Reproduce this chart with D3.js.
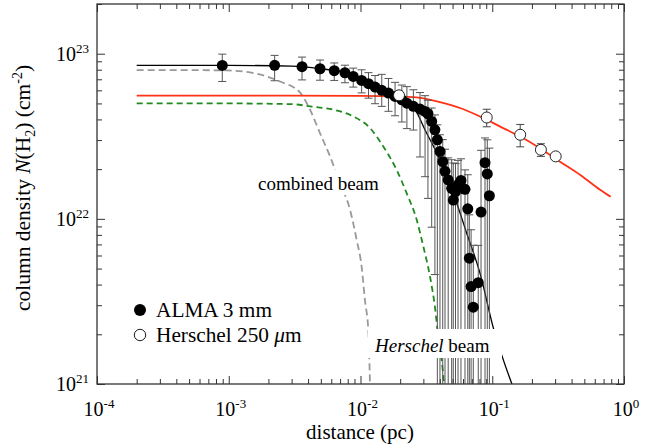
<!DOCTYPE html>
<html>
<head>
<meta charset="utf-8">
<script src="https://cdn.jsdelivr.net/npm/d3@7"></script>
<style>
  body { margin: 0; background: #fff; }
  svg { display: block; font-family: "Liberation Serif", "Times New Roman", serif; }
</style>
</head>
<body>
<svg id="chart"></svg>
<script>
// column densities are kept in units of 1e22 cm^-2
var UNIT = 1e22;

// ALMA 3 mm profile
var almaX = [8.93e-4, 2.23e-3, 3.60e-3, 4.93e-3, 6.32e-3, 7.62e-3, 8.81e-3, 1.02e-2, 1.15e-2, 1.29e-2,
  1.45e-2, 1.63e-2, 1.83e-2, 2.06e-2, 2.25e-2, 2.52e-2, 2.83e-2, 3.09e-2, 3.25e-2, 3.47e-2,
  3.67e-2, 3.83e-2, 4.01e-2, 4.21e-2, 4.38e-2, 4.63e-2, 4.92e-2, 5.06e-2, 5.26e-2, 5.50e-2,
  5.79e-2, 6.21e-2, 6.52e-2, 6.70e-2, 6.91e-2, 7.18e-2, 7.83e-2, 8.22e-2, 8.81e-2, 9.17e-2, 9.51e-2];
var almaY = [8.49, 8.50, 8.34, 8.11, 7.89, 7.67, 7.28, 6.89, 6.58, 6.28,
  6.00, 5.78, 5.51, 5.26, 5.02, 4.80, 4.62, 4.47, 4.33, 3.89,
  3.46, 3.01, 2.56, 2.22, 1.94, 1.72, 1.53, 1.30, 1.46, 1.61,
  1.71, 1.51, 1.15, 0.578, 0.389, 0.292, 0.411, 1.10, 2.19, 1.87, 1.38];
var almaErrUp = [1.45, 1.27, 1.2, 1.05, 0.9, 0.85, 0.9, 1.1, 1.1, 1.1,
  1.5, 1.3, 1.2, 1.2, 1.3, 1.25, 1.2, 1.1, 0.9, 0.8,
  0.8, 0.7, 0.67, 0.8, 0.7, 0.62, 0.75, 0.88, 0.7, 0.65,
  0.6, 0.47, 0.7, 0.48, 0.47, 0.4, 0.28, 1.5, 0.9, 1.14, 1.3];
var almaErrLo = [1.7, 1.64, 1.4, 1.2, 1.0, 1.0, 1.0, 1.1, 1.2, 1.3,
  1.2, 1.3, 1.3, 1.4, 1.5, 1.35, 2.25, 2.67, 3.0, 3.0,
  3.0, 9, 9, 9, 9, 9, 9, 9, 9, 9,
  9, 9, 9, 9, 9, 9, 9, 9, 9, 9, 9];

// Herschel 250 um profile
var hersX = [1.96e-2, 9.08e-2, 0.163, 0.234, 0.303];
var hersY = [5.60, 4.11, 3.23, 2.62, 2.39];
var hersErr = [0.3, 0.5, 0.5, 0.23, 0.08];

// model curves
var fitX = [2e-4, 1e-3, 3e-3, 5e-3, 7.6e-3, 1.0e-2, 1.3e-2, 1.6e-2, 2.0e-2, 2.38e-2,
  3.18e-2, 4.01e-2, 5.06e-2, 6.4e-2, 8.07e-2, 0.102, 0.141];
var fitY = [8.5, 8.5, 8.4, 8.1, 7.7, 7.0, 6.3, 5.8, 5.3, 5.05,
  3.3, 2.28, 1.43, 0.819, 0.469, 0.218, 0.1];

var combX = [2e-4, 5e-4, 9.65e-4, 1.63e-3, 2.45e-3, 3.47e-3, 4.14e-3, 4.93e-3, 5.87e-3, 6.98e-3,
  8.32e-3, 9.35e-3, 1.02e-2, 1.08e-2, 1.15e-2, 1.18e-2];
var combY = [7.95, 7.95, 7.92, 7.57, 6.79, 5.83, 4.58, 3.30, 2.39, 1.65,
  1.14, 0.746, 0.514, 0.323, 0.203, 0.1];

var hbeamX = [2e-4, 1e-3, 3e-3, 4.14e-3, 6.22e-3, 8.81e-3, 1.18e-2, 1.49e-2, 1.88e-2, 2.24e-2,
  2.67e-2, 3.0e-2, 3.37e-2, 3.67e-2, 3.89e-2, 4.13e-2, 4.31e-2];
var hbeamY = [5.0, 5.0, 4.95, 4.80, 4.58, 4.17, 3.55, 2.74, 1.98, 1.43,
  0.986, 0.679, 0.447, 0.294, 0.194, 0.140, 0.1];

var hfitX = [2e-4, 1e-3, 1e-2, 2.0e-2, 2.83e-2, 4.01e-2, 5.69e-2, 8.07e-2, 0.115, 0.163,
  0.230, 0.327, 0.463, 0.658, 0.792];
var hfitY = [5.58, 5.58, 5.56, 5.50, 5.40, 5.09, 4.69, 4.17, 3.62, 3.15,
  2.68, 2.22, 1.85, 1.50, 1.36];

// tick labels
var xTicks = [1e-4, 1e-3, 1e-2, 1e-1, 1];
var xTickExp = ['-4', '-3', '-2', '-1', '0'];
var yTicks = [1e21, 1e22, 1e23];
var yTickExp = ['21', '22', '23'];

var width = 665;
var height = 446;
var plotLeft = 97, plotRight = 624, plotTop = 4, plotBottom = 384;

var svg = d3.select('#chart')
  .attr('width', width)
  .attr('height', height);

var x = d3.scaleLog().domain([1e-4, 1]).range([plotLeft, plotRight]);
var y = d3.scaleLog().domain([1e21, 2e23]).range([plotBottom, plotTop]);

function zip(xs, ys) {
  return xs.map(function(v, i) { return [v, ys[i]]; });
}

function minorTicks(lo, hi) {
  var out = [];
  for (var e = lo; e < hi; e++) {
    for (var k = 2; k <= 9; k++) {
      out.push(k * Math.pow(10, e));
    }
  }
  return out;
}

svg.append('defs').append('clipPath').attr('id', 'plot-clip')
  .append('rect')
  .attr('x', plotLeft).attr('y', plotTop)
  .attr('width', plotRight - plotLeft).attr('height', plotBottom - plotTop);

var plot = svg.append('g').attr('clip-path', 'url(#plot-clip)');

var line = d3.line()
  .x(function(d) { return x(d[0]); })
  .y(function(d) { return y(d[1] * UNIT); })
  .curve(d3.curveMonotoneX);

plot.append('path').datum(zip(combX, combY))
  .attr('d', line).attr('fill', 'none')
  .attr('stroke', '#999').attr('stroke-width', 1.8).attr('stroke-dasharray', '7,4');

plot.append('path').datum(zip(hbeamX, hbeamY))
  .attr('d', line).attr('fill', 'none')
  .attr('stroke', '#1f8a1f').attr('stroke-width', 1.8).attr('stroke-dasharray', '6,4');

plot.append('path').datum(zip(hfitX, hfitY))
  .attr('d', line).attr('fill', 'none')
  .attr('stroke', '#ff3314').attr('stroke-width', 1.8);

plot.append('path').datum(zip(fitX, fitY))
  .attr('d', line).attr('fill', 'none')
  .attr('stroke', '#000').attr('stroke-width', 1.3);

// ALMA error bars
var almaData = almaX.map(function(v, i) {
  return { x: v, y: almaY[i], up: almaErrUp[i], lo: almaErrLo[i] };
});

function lowEnd(d) {
  var low = (d.y - d.lo) * UNIT;
  return low > 1e20 ? y(low) : plotBottom + 20;
}

var bars = plot.append('g').attr('stroke', '#555').attr('stroke-width', 1);
bars.selectAll('line.v').data(almaData).enter().append('line')
  .attr('x1', function(d) { return x(d.x); })
  .attr('x2', function(d) { return x(d.x); })
  .attr('y1', function(d) { return y((d.y + d.up) * UNIT); })
  .attr('y2', lowEnd);
bars.selectAll('line.top').data(almaData).enter().append('line')
  .attr('x1', function(d) { return x(d.x) - 4; })
  .attr('x2', function(d) { return x(d.x) + 4; })
  .attr('y1', function(d) { return y((d.y + d.up) * UNIT); })
  .attr('y2', function(d) { return y((d.y + d.up) * UNIT); });
bars.selectAll('line.bot').data(almaData).enter().append('line')
  .attr('x1', function(d) { return x(d.x) - 4; })
  .attr('x2', function(d) { return x(d.x) + 4; })
  .attr('y1', lowEnd)
  .attr('y2', lowEnd);

plot.selectAll('circle.alma').data(almaData).enter().append('circle')
  .attr('cx', function(d) { return x(d.x); })
  .attr('cy', function(d) { return y(d.y * UNIT); })
  .attr('r', 5.5)
  .attr('fill', '#000');

// Herschel points
var hersData = hersX.map(function(v, i) {
  return { x: v, y: hersY[i], err: hersErr[i] };
});
var hbars = plot.append('g').attr('stroke', '#444').attr('stroke-width', 1);
hersData.forEach(function(d) {
  var cx = x(d.x);
  var y1 = y((d.y + d.err) * UNIT);
  var y2 = y((d.y - d.err) * UNIT);
  hbars.append('line').attr('x1', cx).attr('x2', cx).attr('y1', y1).attr('y2', y2);
  hbars.append('line').attr('x1', cx - 4).attr('x2', cx + 4).attr('y1', y1).attr('y2', y1);
  hbars.append('line').attr('x1', cx - 4).attr('x2', cx + 4).attr('y1', y2).attr('y2', y2);
});
plot.selectAll('circle.hers').data(hersData).enter().append('circle')
  .attr('cx', function(d) { return x(d.x); })
  .attr('cy', function(d) { return y(d.y * UNIT); })
  .attr('r', 5.5)
  .attr('fill', '#fff')
  .attr('stroke', '#222')
  .attr('stroke-width', 1);

// in-plot labels with white boxes
svg.append('rect').attr('x', 255).attr('y', 170).attr('width', 128).attr('height', 25).attr('fill', '#fff');
svg.append('text').attr('x', 258).attr('y', 190)
  .attr('font-size', 19).text('combined beam');

svg.append('rect').attr('x', 368).attr('y', 329).attr('width', 134).attr('height', 29).attr('fill', '#fff');
var hb = svg.append('text').attr('x', 375).attr('y', 352).attr('font-size', 19);
hb.append('tspan').attr('font-style', 'italic').text('Herschel');
hb.append('tspan').text(' beam');

// axes, ticks pointing inwards on all four sides
var xMinor = minorTicks(-4, 0);
var yMinor = minorTicks(21, 23).concat([2e23]);

function drawAxis(axis, tx, ty) {
  var g = svg.append('g')
    .attr('transform', 'translate(' + tx + ',' + ty + ')')
    .call(axis);
  g.select('.domain').remove();
  g.selectAll('line').attr('stroke', '#333');
  return g;
}

drawAxis(d3.axisBottom(x).tickValues(xTicks).tickSize(-8).tickFormat(''), 0, plotBottom);
drawAxis(d3.axisBottom(x).tickValues(xMinor).tickSize(-5).tickFormat(''), 0, plotBottom);
drawAxis(d3.axisTop(x).tickValues(xTicks).tickSize(-8).tickFormat(''), 0, plotTop);
drawAxis(d3.axisTop(x).tickValues(xMinor).tickSize(-5).tickFormat(''), 0, plotTop);
drawAxis(d3.axisLeft(y).tickValues(yTicks).tickSize(-8).tickFormat(''), plotLeft, 0);
drawAxis(d3.axisLeft(y).tickValues(yMinor).tickSize(-5).tickFormat(''), plotLeft, 0);
drawAxis(d3.axisRight(y).tickValues(yTicks).tickSize(-8).tickFormat(''), plotRight, 0);
drawAxis(d3.axisRight(y).tickValues(yMinor).tickSize(-5).tickFormat(''), plotRight, 0);

svg.append('rect')
  .attr('x', plotLeft).attr('y', plotTop)
  .attr('width', plotRight - plotLeft).attr('height', plotBottom - plotTop)
  .attr('fill', 'none').attr('stroke', '#333').attr('stroke-width', 1.3);

// tick labels
xTicks.forEach(function(v, i) {
  var t = svg.append('text')
    .attr('x', x(v) + 2).attr('y', 416)
    .attr('text-anchor', 'middle').attr('font-size', 20);
  t.append('tspan').text('10');
  t.append('tspan').attr('dy', -8).attr('font-size', 13).text(xTickExp[i]);
});

yTicks.forEach(function(v, i) {
  var t = svg.append('text')
    .attr('x', 89).attr('y', y(v) + 7)
    .attr('text-anchor', 'end').attr('font-size', 20);
  t.append('tspan').text('10');
  t.append('tspan').attr('dy', -8).attr('font-size', 13).text(yTickExp[i]);
});

// axis titles
svg.append('text')
  .attr('x', 360).attr('y', 439)
  .attr('text-anchor', 'middle').attr('font-size', 21)
  .text('distance (pc)');

var yt = svg.append('text')
  .attr('transform', 'translate(30,188) rotate(-90)')
  .attr('text-anchor', 'middle').attr('font-size', 21.5);
yt.append('tspan').text('column density ');
yt.append('tspan').attr('font-style', 'italic').text('N');
yt.append('tspan').text('(H');
yt.append('tspan').attr('dy', 5).attr('font-size', 14).text('2');
yt.append('tspan').attr('dy', -5).text(') (cm');
yt.append('tspan').attr('dy', -8).attr('font-size', 14).text('-2');
yt.append('tspan').attr('dy', 8).text(')');

// legend
svg.append('circle').attr('cx', 140).attr('cy', 310).attr('r', 6).attr('fill', '#000');
svg.append('text').attr('x', 156).attr('y', 317).attr('font-size', 21.3).text('ALMA 3 mm');
svg.append('circle').attr('cx', 140).attr('cy', 335).attr('r', 5.7)
  .attr('fill', '#fff').attr('stroke', '#222').attr('stroke-width', 1);
var lg = svg.append('text').attr('x', 156).attr('y', 342).attr('font-size', 21.3);
lg.append('tspan').text('Herschel 250 ');
lg.append('tspan').attr('font-style', 'italic').text('\u03bc');
lg.append('tspan').text('m');
</script>
</body>
</html>
